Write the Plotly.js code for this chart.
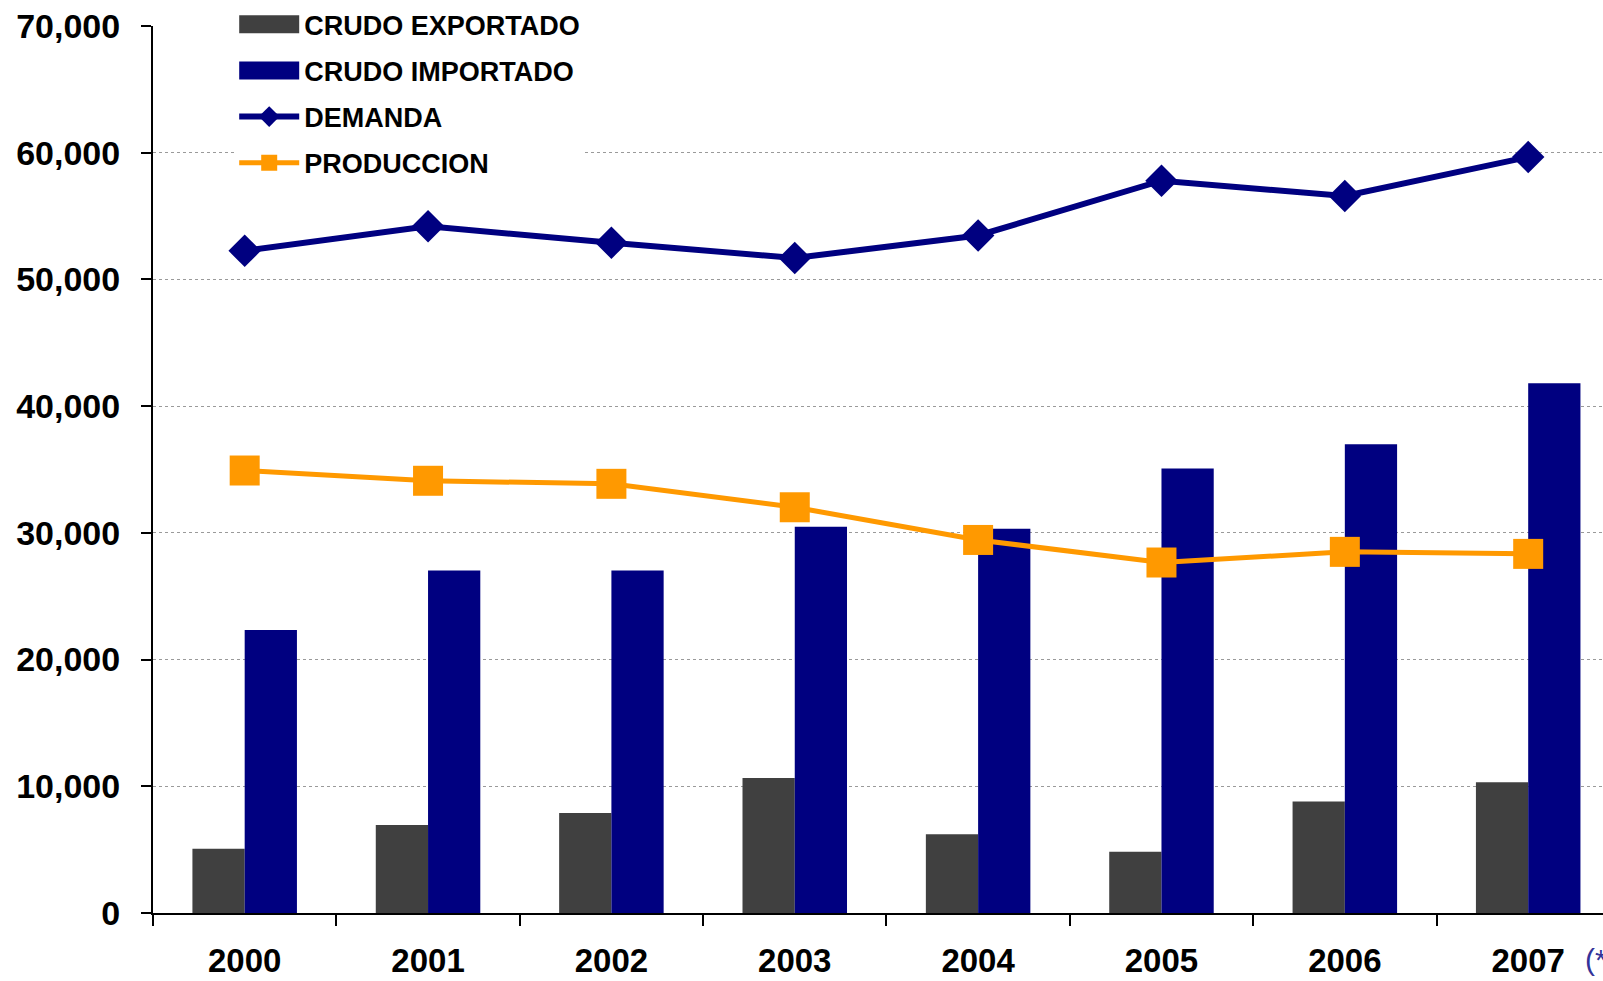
<!DOCTYPE html>
<html>
<head>
<meta charset="utf-8">
<script src="https://cdn.plot.ly/plotly-3.0.1.min.js"></script>
<style>
html,body{margin:0;padding:0;background:#fff;overflow:hidden;}
#chart{width:1603px;height:981px;}
</style>
</head>
<body>
<div id="chart"></div>
<script>
var years = ['2000','2001','2002','2003','2004','2005','2006','2007'];
var crudoExportado = [5080, 6940, 7900, 10650, 6210, 4840, 8790, 10320];
var crudoImportado = [22340, 27020, 27020, 30480, 30320, 35080, 37000, 41800];
var demanda = [52260, 54190, 52900, 51690, 53470, 57790, 56580, 59660];
var produccion = [34920, 34110, 33870, 32020, 29440, 27660, 28500, 28340];
var yTicks = [0, 10000, 20000, 30000, 40000, 50000, 60000, 70000];

var boldFont = 'Liberation Sans, Arial, sans-serif';
var colExp = '#404040', colImp = '#000080', colDem = '#000080', colProd = '#FF9900';

var traces = [
  {type:'bar', name:'CRUDO EXPORTADO', x:years, y:crudoExportado,
   marker:{color:colExp}, legendgroup:'a'},
  {type:'bar', name:'CRUDO IMPORTADO', x:years, y:crudoImportado,
   marker:{color:colImp}, legendgroup:'b'},
  {type:'scatter', mode:'lines+markers', name:'DEMANDA', x:years, y:demanda,
   line:{color:colDem, width:6},
   marker:{symbol:'diamond', size:25, color:colDem}, legendgroup:'c'},
  {type:'scatter', mode:'lines+markers', name:'PRODUCCION', x:years, y:produccion,
   line:{color:colProd, width:5},
   marker:{symbol:'square', size:30, color:colProd}, legendgroup:'d'}
];

var layout = {
  width:1603, height:981,
  margin:{l:153, r:0, t:26, b:68, pad:0},
  paper_bgcolor:'#ffffff', plot_bgcolor:'#ffffff',
  barmode:'group', bargap:0.43, bargroupgap:0,
  showlegend:true,
  legend:{x:0.056, xanchor:'left', y:1.029, yanchor:'top',
    bgcolor:'#ffffff', borderwidth:0, itemwidth:60,
    traceorder:'grouped', tracegroupgap:8,
    font:{family:boldFont, size:27, color:'#000000', weight:'bold'}},
  xaxis:{type:'category', range:[-0.5, 7.408], tickson:'boundaries',
    ticks:'outside', ticklen:11, tickwidth:2, tickcolor:'#000',
    showline:true, linecolor:'#000', linewidth:2,
    showgrid:false, ticklabelstandoff:17,
    tickfont:{family:boldFont, size:33, color:'#000', weight:'bold'},
    fixedrange:true},
  yaxis:{range:[0,70000], tickvals:yTicks, tickformat:',d',
    ticks:'outside', ticklen:10, tickwidth:2, tickcolor:'#000',
    showline:true, linecolor:'#000', linewidth:2,
    showgrid:true, gridcolor:'#9a9a9a', gridwidth:1, griddash:'dot',
    zeroline:false, ticklabelstandoff:14,
    tickfont:{family:boldFont, size:34, color:'#000', weight:'bold'},
    fixedrange:true},
  annotations:[{xref:'paper', yref:'paper', x:0.986, y:-0.052,
    xanchor:'left', yanchor:'middle', showarrow:false, text:'(*)',
    font:{family:'Liberation Sans, Arial, sans-serif', size:30, color:'#333399'}}]
};

Plotly.newPlot('chart', traces, layout, {displayModeBar:false, staticPlot:true}).then(function(gd){
  // widen the bar legend swatches into the long rectangles of the reference
  gd.querySelectorAll('.legend .traces').forEach(function(t){
    var txt = t.querySelector('.legendtext');
    if (txt && txt.textContent.indexOf('CRUDO') === 0) {
      t.querySelectorAll('.legendpoints path').forEach(function(p){
        p.setAttribute('d', 'M30,9H-30V-9H30Z');
        p.style.strokeWidth = '0px';
      });
    }
  });
});
</script>
</body>
</html>
